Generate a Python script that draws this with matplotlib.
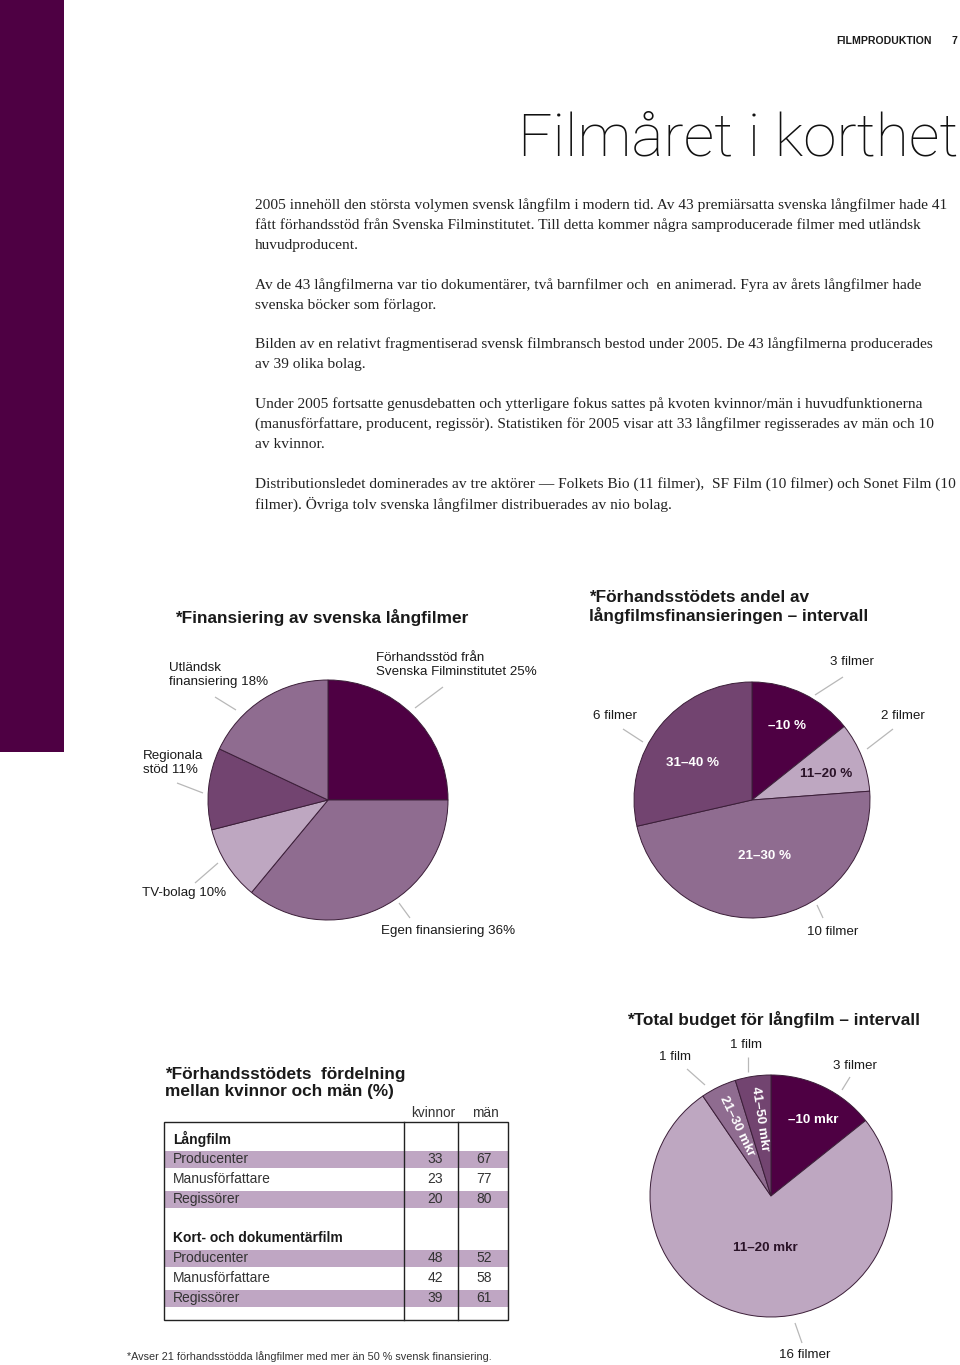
import matplotlib
matplotlib.use("Agg")
import matplotlib.pyplot as plt
import numpy as np

# Page size in pixels (saved at 100 dpi)
W, H = 960, 1365

DARK = '#4e0043'
MIDDARK = '#724470'
MID = '#8f6c90'
LIGHT = '#bea7c1'
BAND = '#bfa6c3'
EDGE = '#3b1e38'
LEADER = '#b8b8b8'
INK = '#1a1a1a'

SANS = ['Liberation Sans', 'DejaVu Sans']
SERIF = ['Liberation Serif', 'DejaVu Serif']

# ---- data ----
fin_names = ['Förhandsstöd från\nSvenska Filminstitutet', 'Egen finansiering', 'TV-bolag',
             'Regionala\nstöd', 'Utländsk\nfinansiering']
fin_share = [25, 36, 10, 11, 18]

andel_ranges = ['–10 %', '11–20 %', '21–30 %', '31–40 %']
andel_films = [3, 2, 10, 6]

budget_ranges = ['–10 mkr', '11–20 mkr', '21–30 mkr', '41–50 mkr']
budget_films = [3, 16, 1, 1]

roles = ['Producenter', 'Manusförfattare', 'Regissörer']
lang_kvinnor = [33, 23, 20]
lang_man = [67, 77, 80]
kort_kvinnor = [48, 42, 39]
kort_man = [52, 58, 61]

body = [
    ['2005 innehöll den största volymen svensk långfilm i modern tid. Av 43 premiärsatta svenska långfilmer hade 41',
     'fått förhandsstöd från Svenska Filminstitutet. Till detta kommer några samproducerade filmer med utländsk',
     'huvudproducent.'],
    ['Av de 43 långfilmerna var tio dokumentärer, två barnfilmer och  en animerad. Fyra av årets långfilmer hade',
     'svenska böcker som förlagor.'],
    ['Bilden av en relativt fragmentiserad svensk filmbransch bestod under 2005. De 43 långfilmerna producerades',
     'av 39 olika bolag.'],
    ['Under 2005 fortsatte genusdebatten och ytterligare fokus sattes på kvoten kvinnor/män i huvudfunktionerna',
     '(manusförfattare, producent, regissör). Statistiken för 2005 visar att 33 långfilmer regisserades av män och 10',
     'av kvinnor.'],
    ['Distributionsledet dominerades av tre aktörer — Folkets Bio (11 filmer),  SF Film (10 filmer) och Sonet Film (10',
     'filmer). Övriga tolv svenska långfilmer distribuerades av nio bolag.'],
]


def films(n):
    return '1 film' if n == 1 else f'{n} filmer'


def pie_axes(cx, cy, r, pad=1.1):
    ax = fig.add_axes([(cx - r * pad) / W, 1 - (cy + r * pad) / H, 2 * r * pad / W, 2 * r * pad / H])
    return ax


def finish(ax, pad=1.1):
    ax.set_xlim(-pad, pad)
    ax.set_ylim(-pad, pad)
    ax.set_aspect('equal')
    ax.axis('off')


def leader(x1, y1, x2, y2):
    bg.plot([x1, x2], [y1, y2], color=LEADER, lw=0.9, solid_capstyle='butt')


fig = plt.figure(figsize=(W / 100, H / 100), dpi=100)
bg = fig.add_axes([0, 0, 1, 1])
bg.set_xlim(0, W)
bg.set_ylim(H, 0)
bg.axis('off')

# purple band at the left
bg.add_patch(plt.Rectangle((0, 0), 64, 752, color=DARK, lw=0))

# header
bg.text(932, 41, 'FILMPRODUKTION', ha='right', va='center', fontsize=7.6, fontweight='bold',
        family=SANS, color=INK)
bg.text(957, 41, '7', ha='right', va='center', fontsize=7.6, fontweight='bold', family=SANS, color=INK)

# page title
bg.text(958, 155, 'Filmåret i korthet', ha='right', va='baseline', fontsize=43.5, fontweight='light',
        family=['Roboto', 'DejaVu Sans'], color='#111111')

# body text
y = 205
for para in body:
    for line in para:
        bg.text(255, y, line, ha='left', va='center', fontsize=11.1, family=SERIF, color='#222222')
        y += 20
    y += 19.75

# ---- pie 1: financing ----
ax1 = pie_axes(328, 800, 120)
ax1.pie(fin_share, colors=[DARK, MID, LIGHT, MIDDARK, MID], startangle=90, counterclock=False,
        wedgeprops=dict(edgecolor=EDGE, linewidth=0.7))
finish(ax1)

bg.text(175, 618, '*Finansiering av svenska långfilmer', ha='left', va='center', fontsize=12.4,
        fontweight='bold', family=SANS, color=INK)
fin_pos = [(376, 665, 'left'), (381, 931, 'left'), (142, 893, 'left'), (143, 763, 'left'), (169, 675, 'left')]
for name, val, (x, yy, ha) in zip(fin_names, fin_share, fin_pos):
    bg.text(x, yy, f'{name} {val}%', ha=ha, va='center', fontsize=9.6, family=SANS, color=INK,
            linespacing=1.25)
leader(415, 708, 443, 687)
leader(215, 697, 236, 710)
leader(177, 783, 203, 793)
leader(195, 883, 218, 863)
leader(399, 903, 410, 918)

# ---- pie 2: share of advance support ----
ax2 = pie_axes(752, 800, 118)
ax2.pie(andel_films, colors=[DARK, LIGHT, MID, MIDDARK], startangle=90, counterclock=False,
        wedgeprops=dict(edgecolor=EDGE, linewidth=0.7))
finish(ax2)

bg.text(589, 607, '*Förhandsstödets andel av\nlångfilmsfinansieringen – intervall', ha='left', va='center',
        fontsize=12.4, fontweight='bold', family=SANS, color=INK, linespacing=1.1)
andel_out = [(852, 662), (903, 716), (833, 932), (615, 716)]
for n, (x, yy) in zip(andel_films, andel_out):
    bg.text(x, yy, films(n), ha='center', va='center', fontsize=9.6, family=SANS, color=INK)
leader(815, 695, 843, 677)
leader(867, 749, 893, 729)
leader(623, 729, 643, 742)
leader(817, 905, 823, 918)

# ---- pie 3: total budget ----
ax3 = pie_axes(771, 1196, 121)
wedges3, _ = ax3.pie(budget_films, colors=[DARK, LIGHT, MID, MIDDARK], startangle=90, counterclock=False,
                     wedgeprops=dict(edgecolor=EDGE, linewidth=0.7))
finish(ax3)

bg.text(627, 1019, '*Total budget för långfilm – intervall', ha='left', va='center', fontsize=12.4,
        fontweight='bold', family=SANS, color=INK)
for w, txt in zip(wedges3[2:], budget_ranges[2:]):
    mid = np.deg2rad((w.theta1 + w.theta2) / 2)
    ax3.text(0.64 * np.cos(mid), 0.64 * np.sin(mid), txt, ha='center', va='center',
             rotation=np.rad2deg(mid) - 180, rotation_mode='anchor', fontsize=9.6, fontweight='bold',
             family=SANS, color='white')
budget_out = [(855, 1066), (805, 1355), (675, 1057), (746, 1045)]
for n, (x, yy) in zip(budget_films, budget_out):
    bg.text(x, yy, films(n), ha='center', va='center', fontsize=9.6, family=SANS, color=INK)
leader(687, 1069, 705, 1085)
leader(748, 1057, 748, 1072)
leader(850, 1077, 842, 1090)
leader(795, 1323, 802, 1343)

# overlay for labels that sit on top of the pies
fg = fig.add_axes([0, 0, 1, 1])
fg.set_xlim(0, W)
fg.set_ylim(H, 0)
fg.axis('off')
fg.patch.set_alpha(0)

andel_in = [(787, 726, 'white'), (826, 774, '#2a1328'), (764, 856, 'white'), (693, 763, 'white')]
for txt, (x, yy, c) in zip(andel_ranges, andel_in):
    fg.text(x, yy, txt, ha='center', va='center', fontsize=9.6, fontweight='bold', family=SANS, color=c)
fg.text(813, 1120, budget_ranges[0], ha='center', va='center', fontsize=9.6, fontweight='bold',
        family=SANS, color='white')
fg.text(765, 1248, budget_ranges[1], ha='center', va='center', fontsize=9.6, fontweight='bold',
        family=SANS, color='#2a1328')

# ---- table ----
bg.text(165, 1083, '*Förhandsstödets  fördelning\nmellan kvinnor och män (%)', ha='left', va='center',
        fontsize=12.4, fontweight='bold', family=SANS, color=INK, linespacing=1.1)
bg.text(433, 1113, 'kvinnor', ha='center', va='center', fontsize=9.8, family=SANS, color='#333333')
bg.text(485, 1113, 'män', ha='center', va='center', fontsize=9.8, family=SANS, color='#333333')

tx0, tx1, ty0, ty1 = 164, 508, 1122, 1320
groups = [('Långfilm', 1139, lang_kvinnor, lang_man), ('Kort- och dokumentärfilm', 1238, kort_kvinnor, kort_man)]
for title, gy, kv, ma in groups:
    bg.text(173, gy, title, ha='left', va='center', fontsize=10, fontweight='bold', family=SANS, color=INK)
    for i, (role, k, m) in enumerate(zip(roles, kv, ma)):
        ry = gy + 20 * (i + 1)
        if i % 2 == 0:
            bg.add_patch(plt.Rectangle((tx0, ry - 8.5), tx1 - tx0, 17, color=BAND, lw=0, zorder=1))
        bg.text(173, ry, role, ha='left', va='center', fontsize=10, family=SANS, color='#333333', zorder=3)
        bg.text(443, ry, str(k), ha='right', va='center', fontsize=10, family=SANS, color='#333333', zorder=3)
        bg.text(492, ry, str(m), ha='right', va='center', fontsize=10, family=SANS, color='#333333', zorder=3)

bg.add_patch(plt.Rectangle((tx0, ty0), tx1 - tx0, ty1 - ty0, fill=False, ec='#222222', lw=1, zorder=4))
bg.plot([404, 404], [ty0, ty1], color='#222222', lw=1, zorder=4)
bg.plot([458, 458], [ty0, ty1], color='#222222', lw=1, zorder=4)

# footnote
bg.text(127, 1357, '*Avser 21 förhandsstödda långfilmer med mer än 50 % svensk finansiering.', ha='left',
        va='center', fontsize=7.8, family=SANS, color='#333333')

fig.savefig('out.png', dpi=100)
